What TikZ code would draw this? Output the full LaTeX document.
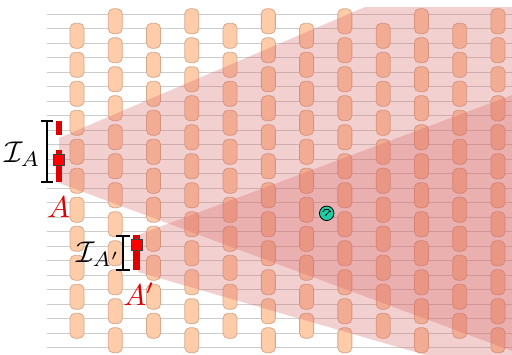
\documentclass[tikz,border=0pt]{standalone}
\usetikzlibrary{calc}
\definecolor{boxfill}{RGB}{255,204,170}
\definecolor{boxline}{RGB}{214,168,140}
\definecolor{gridline}{RGB}{205,205,205}
\definecolor{conefill}{RGB}{215,100,100}
\definecolor{mred}{RGB}{222,0,0}
\definecolor{gauge}{RGB}{30,205,165}
\tikzset{
  unit/.style={draw=boxline, fill=boxfill, line width=0.8pt, rounded corners=5pt,
    minimum width=14pt, minimum height=25pt, inner sep=0pt},
  cone/.style={fill=conefill, fill opacity=0.3, draw=none},
  gridln/.style={draw=gridline, line width=1pt},
  bracket/.style={draw=black, line width=1.2pt},
  rbar/.style={draw=mred, line width=6.5pt},
  rsq/.style={draw=black!75, fill=red, line width=0.8pt, minimum size=11pt, inner sep=0pt},
  lab/.style={font=\fontsize{10}{12}\selectfont, inner sep=0pt, scale=3},
}
\begin{document}
\begin{tikzpicture}[x=1pt,y=-1pt]
\useasboundingbox (0,0) rectangle (512,354);
% grid lines
\foreach \k in {0,...,23} {
  \coordinate (gl-\k) at (47,{14+14.5*\k});
  \coordinate (gr-\k) at (512,{14+14.5*\k});
  \draw[gridln] (gl-\k) -- (gr-\k);
}
% units
\foreach \c in {0,...,11} {
  \pgfmathsetmacro{\xx}{77+38.27*\c}
  \pgfmathtruncatemacro{\cpar}{mod(\c,2)}
  \ifnum\cpar=0
    \foreach \m in {0,...,10} { \node[unit] (u-\c-\m) at (\xx,{35.75+29*\m}) {}; }
  \else
    \foreach \m in {0,...,11} { \node[unit] (u-\c-\m) at (\xx,{21.25+29*\m}) {}; }
  \fi
}
% cones
\begin{scope}
  \clip (0,7) rectangle (512,354);
  \fill[cone] (59,138) -- (365,7) -- (512,7) -- (512,351) -- (59,183) -- cycle;
  \fill[cone] (138,235) -- (512,95) -- (512,380) -- (138,272) -- cycle;
\end{scope}
% interval I_A
\coordinate (ia-t) at (47,121);
\coordinate (ia-b) at (47,182);
\draw[bracket] ($(ia-t)+(-6,0)$) -- ($(ia-t)+(6,0)$) (ia-t) -- (ia-b) ($(ia-b)+(-6,0)$) -- ($(ia-b)+(6,0)$);
\coordinate (a-t) at (59,121);
\coordinate (a-m1) at (59,135);
\coordinate (a-m2) at (59,150);
\coordinate (a-b) at (59,182);
\draw[rbar] (a-t) -- (a-m1) (a-m2) -- (a-b);
\node[rsq] (sqA) at (59,159.5) {};
\node[lab, anchor=base east] (IA) at (41,162) {$\mathcal{I}_A$};
\node[lab, text=mred, anchor=base] (A) at (58.5,217) {$A$};
% interval I_A'
\coordinate (ib-t) at (123,236);
\coordinate (ib-b) at (123,270);
\draw[bracket] ($(ib-t)+(-7,0)$) -- ($(ib-t)+(7,0)$) (ib-t) -- (ib-b) ($(ib-b)+(-7,0)$) -- ($(ib-b)+(7,0)$);
\coordinate (b-t) at (136.5,235);
\coordinate (b-b) at (136.5,270);
\draw[rbar] (b-t) -- (b-b);
\node[rsq] (sqB) at (136.5,245) {};
\node[lab, anchor=base east] (IB) at (121,262) {$\mathcal{I}_{A'}$};
\node[lab, text=mred, anchor=base west] (B) at (123,305) {$A'$};
% gauge
\node[circle, draw=black, fill=gauge, minimum size=14.5pt, inner sep=0pt, line width=0.8pt] (g) at (326.7,213.3) {};
\begin{scope}[shift={(g.center)}, yscale=-1]
  \draw[line width=0.7pt] (160:4.2) arc[start angle=160, end angle=20, radius=4.2];
  \draw[line width=0.8pt] (-1.5,-2.5) -- (3,2.2);
\end{scope}
\end{tikzpicture}
\end{document}
